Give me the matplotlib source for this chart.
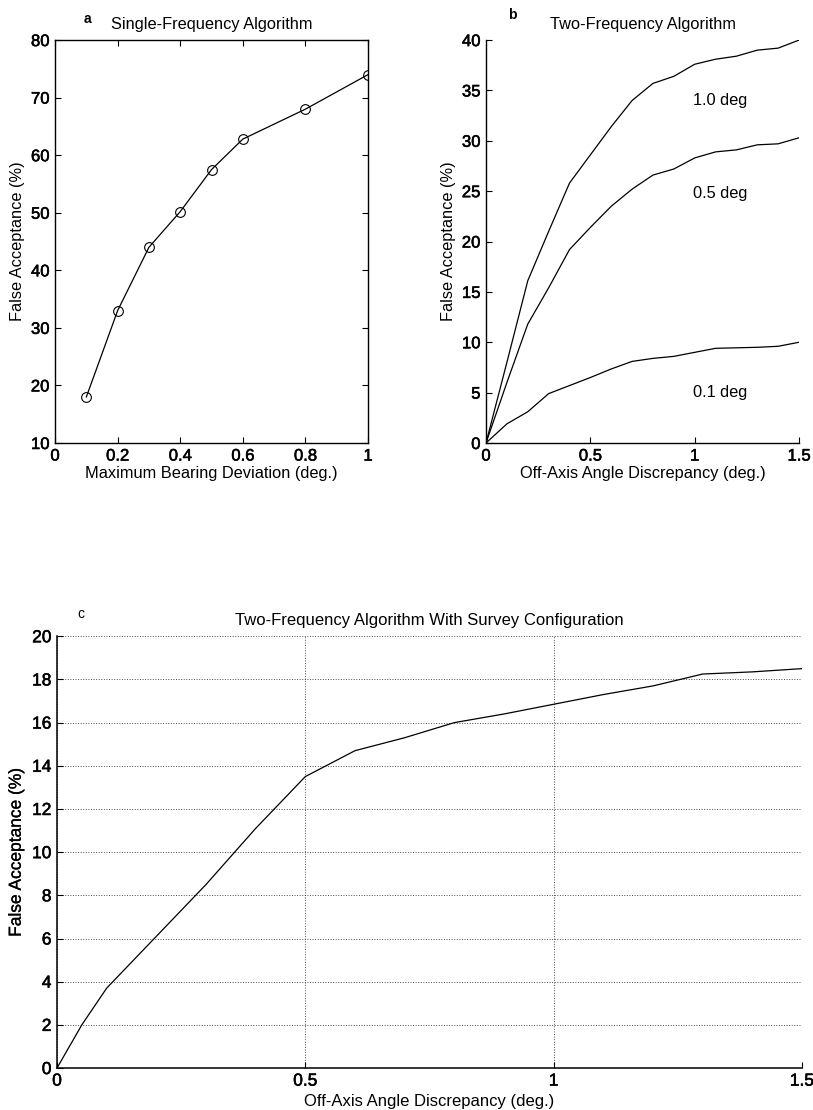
import matplotlib
matplotlib.use("Agg")
import matplotlib.pyplot as plt
import matplotlib.patheffects as pe

plt.rcParams['font.family'] = ['Liberation Sans', 'DejaVu Sans']

# Panel a: single-frequency algorithm
a_dev = [0.1, 0.2, 0.3, 0.4, 0.5, 0.6, 0.8, 1.0]
a_fa = [18.0, 33.0, 44.0, 50.2, 57.5, 62.8, 68.0, 74.0]

# Panel b: two-frequency algorithm, one curve per bearing threshold
b_x = [0.0, 0.1, 0.2, 0.3, 0.4, 0.5, 0.6, 0.7, 0.8, 0.9, 1.0, 1.1, 1.2, 1.3, 1.4, 1.5]
b_10 = [0.0, 8.0, 16.1, 21.0, 25.8, 28.6, 31.4, 34.0, 35.7, 36.4, 37.6, 38.1, 38.4, 39.0, 39.2, 40.0]
b_05 = [0.0, 6.0, 11.8, 15.4, 19.2, 21.4, 23.5, 25.2, 26.6, 27.2, 28.3, 28.9, 29.1, 29.6, 29.7, 30.3]
b_01 = [0.0, 1.9, 3.1, 4.9, 5.7, 6.5, 7.35, 8.1, 8.4, 8.6, 9.0, 9.4, 9.45, 9.5, 9.6, 10.0]
b_labels = ["1.0 deg", "0.5 deg", "0.1 deg"]
b_label_y = [34.0, 24.8, 5.0]

# Panel c: two-frequency algorithm with survey configuration
c_x = [0.0, 0.05, 0.1, 0.2, 0.3, 0.4, 0.5, 0.6, 0.7, 0.8, 0.9, 1.0, 1.1, 1.2, 1.3, 1.4, 1.5]
c_fa = [0.0, 2.0, 3.7, 6.1, 8.5, 11.1, 13.5, 14.7, 15.3, 16.0, 16.4, 16.85, 17.3, 17.7, 18.25, 18.35, 18.5]

fig = plt.figure(figsize=(8.13, 11.10), dpi=100)

# slightly heavier strokes for the printed-looking text
thick = [pe.withStroke(linewidth=0.4, foreground='black')]

tick_fs = 12
lab_fs = 11.8


def thicken(ax):
    for lbl in ax.get_xticklabels() + ax.get_yticklabels():
        lbl.set_path_effects(thick)


# ---- panel a ----
ax_a = fig.add_axes([0.0677, 0.6009, 0.385, 0.363])
ax_a.plot(a_dev, a_fa, color='black', lw=0.9, marker='o', markersize=7,
          markerfacecolor='none', markeredgecolor='black', markeredgewidth=0.8)
ax_a.set_xlim(0, 1)
ax_a.set_ylim(10, 80)
ax_a.set_xticks([0, 0.2, 0.4, 0.6, 0.8, 1])
ax_a.set_xticklabels(['0', '0.2', '0.4', '0.6', '0.8', '1'])
ax_a.set_yticks(range(10, 81, 10))
ax_a.tick_params(direction='in', top=True, right=True, length=4, width=0.8,
                 labelsize=tick_fs, pad=4)
for s in ax_a.spines.values():
    s.set_linewidth(1.0)
thicken(ax_a)
ax_a.set_xlabel('Maximum Bearing Deviation (deg.)', fontsize=lab_fs, labelpad=2)
ax_a.set_ylabel('False Acceptance (%)', fontsize=lab_fs, labelpad=4)
ax_a.set_title('Single-Frequency Algorithm', fontsize=lab_fs, pad=8)
ax_a.text(0.09, 1.035, 'a', transform=ax_a.transAxes, fontsize=10,
          fontweight='bold', ha='left', va='bottom')

# ---- panel b ----
ax_b = fig.add_axes([0.5978, 0.6009, 0.385, 0.363])
for ys in (b_10, b_05, b_01):
    ax_b.plot(b_x, ys, color='black', lw=0.9)
for txt, yy in zip(b_labels, b_label_y):
    ax_b.text(0.99, yy, txt, fontsize=lab_fs, ha='left', va='center')
ax_b.set_xlim(0, 1.5)
ax_b.set_ylim(0, 40)
ax_b.set_xticks([0, 0.5, 1, 1.5])
ax_b.set_xticklabels(['0', '0.5', '1', '1.5'])
ax_b.set_yticks(range(0, 41, 5))
ax_b.spines['top'].set_visible(False)
ax_b.spines['right'].set_visible(False)
for s in ('left', 'bottom'):
    ax_b.spines[s].set_linewidth(1.0)
ax_b.tick_params(direction='in', length=4, width=0.8, labelsize=tick_fs, pad=4)
thicken(ax_b)
ax_b.set_xlabel('Off-Axis Angle Discrepancy (deg.)', fontsize=lab_fs, labelpad=2)
ax_b.set_ylabel('False Acceptance (%)', fontsize=lab_fs, labelpad=4)
ax_b.set_title('Two-Frequency Algorithm', fontsize=lab_fs, pad=8)
ax_b.text(0.07, 1.045, 'b', transform=ax_b.transAxes, fontsize=10,
          fontweight='bold', ha='left', va='bottom')

# ---- panel c ----
narrow = ['Liberation Sans Narrow', 'Liberation Sans', 'DejaVu Sans']
ax_c = fig.add_axes([0.0701, 0.0378, 0.9164, 0.389])
ax_c.plot(c_x, c_fa, color='black', lw=0.9)
ax_c.set_xlim(0, 1.5)
ax_c.set_ylim(0, 20)
ax_c.set_xticks([0, 0.5, 1, 1.5])
ax_c.set_xticklabels(['0', '0.5', '1', '1.5'])
ax_c.set_yticks(range(0, 21, 2))
ax_c.grid(True, linestyle=':', color='black', lw=0.7, alpha=0.7)
ax_c.spines['top'].set_visible(False)
ax_c.spines['right'].set_visible(False)
for s in ('left', 'bottom'):
    ax_c.spines[s].set_linewidth(1.1)
ax_c.tick_params(direction='in', length=4, width=0.8, pad=4)
for lbl in ax_c.get_xticklabels() + ax_c.get_yticklabels():
    lbl.set_family(narrow)
    lbl.set_fontsize(12.5)
    lbl.set_path_effects(thick)
ax_c.set_xlabel('Off-Axis Angle Discrepancy (deg.)', fontsize=12,
                family=narrow, labelpad=4)
ax_c.set_ylabel('False Acceptance (%)', fontsize=12.5, labelpad=6,
                path_effects=[pe.withStroke(linewidth=0.2, foreground='black')])
ax_c.set_title('Two-Frequency Algorithm With Survey Configuration', fontsize=12,
               family=narrow, pad=8)
ax_c.text(0.028, 1.035, 'c', transform=ax_c.transAxes, fontsize=10,
          family=narrow, ha='left', va='bottom')

fig.savefig('out.png', dpi=100)
